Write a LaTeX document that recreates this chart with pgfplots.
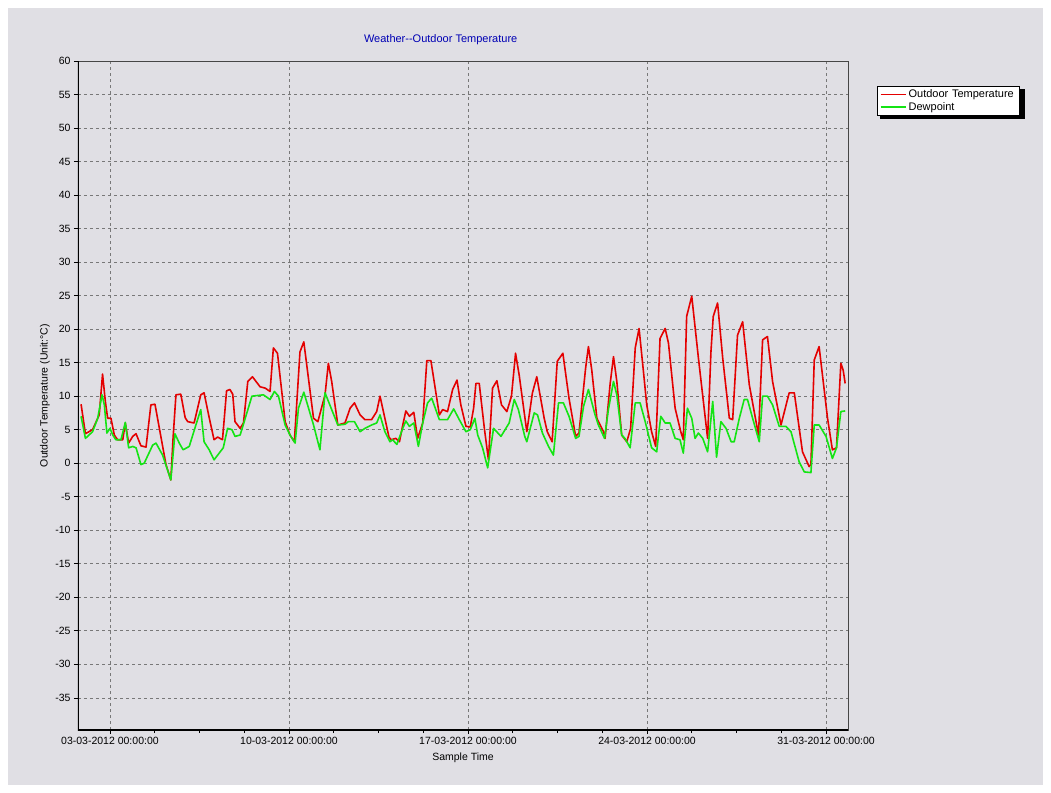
\documentclass[border=0pt]{standalone}
\usepackage{fontspec}
\setmainfont{Liberation Sans}
\usepackage{pgfplots}
\pgfplotsset{compat=1.18}
\definecolor{panel}{RGB}{224,223,228}
\definecolor{tred}{RGB}{228,0,0}
\definecolor{tgreen}{RGB}{20,228,20}
\definecolor{titleblue}{RGB}{0,0,180}
\definecolor{gridgray}{RGB}{120,120,120}
\definecolor{framegray}{RGB}{70,70,70}
\begin{document}
\begin{tikzpicture}[font=\fontsize{10.5}{12.5}\selectfont]
\fill[white] (-78pt,-62pt) rectangle (973pt,730pt);
\fill[panel] (-70pt,-55pt) rectangle (965pt,722pt);
\fill[black] (802pt,611pt) rectangle (947pt,641pt);
\begin{axis}[
  at={(0,0)}, anchor=south west,
  scale only axis, width=770pt, height=669pt,
  xmin=1.75, xmax=31.86, ymin=-39.8, ymax=60,
  /pgf/number format/assume math mode=true,
  xtick={3,10,17,24,31},
  xticklabels={03-03-2012 00:00:00,10-03-2012 00:00:00,17-03-2012 00:00:00,24-03-2012 00:00:00,31-03-2012 00:00:00},
  minor xtick={4.75,6.5,8.25,11.75,13.5,15.25,18.75,20.5,22.25,25.75,27.5,29.25},
  ytick={-35,-30,...,60},
  tick align=outside,
  major tick length=4pt, minor tick length=3pt,
  tick style={black, line width=0.6pt},
  xtick pos=bottom, ytick pos=left,
  grid=major,
  major grid style={gridgray, line width=0.6pt, dash pattern=on 3pt off 3pt},
  axis line style={framegray, line width=0.8pt},
  title={Weather{-}{-}Outdoor Temperature},
  title style={at={(axis description cs:0.471,1.0224)}, anchor=center, text=titleblue, font=\fontsize{11}{13}\selectfont},
  xlabel={Sample Time},
  xlabel style={at={(axis description cs:0.5,-0.0419)}, anchor=center},
  ylabel={Outdoor Temperature (Unit:°C)},
  ylabel style={at={(axis description cs:-0.0429,0.5)}, anchor=center},
  legend style={at={(1.0377,0.9626)}, anchor=north west, draw=black, fill=white,
    line width=0.6pt, font=\fontsize{11}{12.5}\selectfont,
    inner xsep=2.5pt, inner ysep=1.5pt, row sep=-1pt,
    text width=106pt,
    cells={anchor=west}},
  legend image code/.code={\draw[#1, line width=1.8pt] (0pt,0pt) -- (25pt,0pt);},
]
\addplot[tred, line width=1.6pt, line join=round] coordinates {
(1.87,8.8) (2.04,4.4) (2.32,5.0) (2.58,7.2) (2.71,13.3) (2.82,9.2) (2.91,6.7) (3.04,6.7) (3.17,4.2) (3.30,3.5) (3.50,3.5) (3.60,6.0) (3.73,3.0) (3.89,4.0) (4.02,4.4) (4.21,2.6) (4.41,2.4) (4.60,8.7) (4.76,8.8) (5.19,-0.2) (5.38,-2.5) (5.47,3.9) (5.58,10.2) (5.77,10.3) (5.94,6.8) (6.04,6.2) (6.29,6.0) (6.55,10.2) (6.68,10.5) (6.88,6.8) (7.07,3.5) (7.21,3.9) (7.40,3.5) (7.56,10.8) (7.69,11.0) (7.80,10.3) (7.89,6.2) (8.09,5.2) (8.22,6.0) (8.39,12.2) (8.57,12.9) (8.87,11.4) (9.07,11.2) (9.26,10.7) (9.39,17.2) (9.55,16.4) (9.85,6.2) (10.04,4.2) (10.21,3.2) (10.43,16.6) (10.58,18.1) (10.96,6.7) (11.13,6.2) (11.41,10.2) (11.54,14.9) (11.67,12.2) (11.91,5.7) (12.19,6.0) (12.39,8.2) (12.56,9.0) (12.78,7.2) (12.97,6.5) (13.23,6.5) (13.43,7.7) (13.56,10.0) (13.75,6.7) (13.91,3.9) (13.99,3.5) (14.18,3.7) (14.32,3.2) (14.45,5.7) (14.57,7.8) (14.71,7.0) (14.88,7.6) (15.03,3.7) (15.23,6.0) (15.39,15.3) (15.55,15.3) (15.88,7.2) (16.01,8.0) (16.20,7.7) (16.40,11.0) (16.57,12.4) (16.72,8.7) (16.92,5.5) (17.09,5.4) (17.22,8.2) (17.31,11.9) (17.44,11.9) (17.64,5.2) (17.80,0.5) (17.96,11.2) (18.13,12.3) (18.31,8.7) (18.52,7.7) (18.70,10.0) (18.86,16.4) (19.00,13.2) (19.30,4.7) (19.52,10.5) (19.69,12.9) (19.98,6.7) (20.10,4.7) (20.29,3.2) (20.49,15.2) (20.71,16.4) (20.95,9.7) (21.21,4.0) (21.34,4.5) (21.60,14.2) (21.71,17.4) (21.84,13.9) (22.04,6.7) (22.30,4.7) (22.36,3.7) (22.56,11.9) (22.69,15.9) (22.82,12.2) (23.01,4.2) (23.21,3.2) (23.36,5.2) (23.54,17.2) (23.69,20.1) (23.86,13.7) (23.99,8.7) (24.18,4.7) (24.34,2.5) (24.51,18.6) (24.71,20.1) (24.84,17.9) (25.10,8.2) (25.32,4.7) (25.42,3.5) (25.55,21.9) (25.75,24.9) (26.01,15.7) (26.37,3.7) (26.50,16.6) (26.59,21.9) (26.76,23.9) (26.96,15.7) (27.22,6.7) (27.35,6.5) (27.54,19.1) (27.74,21.1) (28.00,11.7) (28.36,4.2) (28.52,18.4) (28.71,18.9) (28.91,12.2) (29.24,5.7) (29.56,10.5) (29.76,10.5) (30.08,1.7) (30.34,-0.5) (30.41,-0.2) (30.54,15.4) (30.73,17.4) (31.06,6.7) (31.25,2.0) (31.41,2.3) (31.58,14.9) (31.67,13.9) (31.75,11.9)
};
\addlegendentry{Outdoor Temperature}
\addplot[tgreen, line width=1.6pt, line join=round] coordinates {
(1.87,7.0) (2.04,3.7) (2.32,4.7) (2.52,6.7) (2.69,10.2) (2.78,8.7) (2.88,4.5) (3.00,5.2) (3.11,4.2) (3.23,3.5) (3.43,3.5) (3.60,6.1) (3.73,2.3) (3.89,2.5) (4.02,2.3) (4.21,-0.2) (4.34,0.0) (4.67,2.7) (4.80,3.0) (5.06,1.2) (5.38,-2.5) (5.54,4.4) (5.71,3.0) (5.86,2.0) (6.10,2.5) (6.36,5.7) (6.55,8.0) (6.68,3.2) (6.88,2.0) (7.07,0.5) (7.27,1.5) (7.43,2.3) (7.60,5.2) (7.77,5.0) (7.89,4.0) (8.09,4.2) (8.29,6.7) (8.55,10.0) (9.00,10.2) (9.26,9.5) (9.43,10.7) (9.59,10.0) (9.85,5.7) (10.04,4.2) (10.24,3.0) (10.37,8.2) (10.58,10.6) (10.96,5.7) (11.21,2.0) (11.41,10.5) (11.67,8.0) (11.91,5.7) (12.19,5.8) (12.32,6.2) (12.56,6.2) (12.78,4.7) (12.97,5.2) (13.23,5.7) (13.43,6.0) (13.56,7.2) (13.75,4.7) (13.95,3.2) (14.05,3.5) (14.22,2.8) (14.45,5.2) (14.57,6.3) (14.71,5.5) (14.88,6.0) (15.06,2.5) (15.23,6.0) (15.42,9.0) (15.58,9.7) (15.88,6.5) (16.20,6.5) (16.44,8.1) (16.66,6.5) (16.92,4.7) (17.09,5.0) (17.27,6.7) (17.38,4.2) (17.57,2.3) (17.77,-0.7) (18.00,5.2) (18.29,4.0) (18.61,6.0) (18.81,9.5) (18.97,8.0) (19.22,4.0) (19.30,3.2) (19.59,7.5) (19.72,7.2) (19.91,4.5) (20.15,2.5) (20.34,1.2) (20.54,9.0) (20.73,9.0) (20.95,7.0) (21.21,3.7) (21.34,4.0) (21.52,8.5) (21.71,11.0) (21.97,7.2) (22.10,5.7) (22.34,3.7) (22.49,8.0) (22.69,12.2) (22.82,10.2) (23.01,4.2) (23.14,3.7) (23.34,2.3) (23.54,9.0) (23.73,9.0) (23.93,6.2) (24.18,2.3) (24.38,1.7) (24.45,4.2) (24.54,7.0) (24.71,6.0) (24.90,6.0) (25.10,3.7) (25.29,3.5) (25.42,1.5) (25.58,8.2) (25.75,6.7) (25.88,3.7) (26.01,4.5) (26.18,3.7) (26.37,1.7) (26.57,9.2) (26.72,0.9) (26.89,6.2) (27.09,5.2) (27.29,3.2) (27.41,3.2) (27.61,6.7) (27.80,9.5) (27.93,9.5) (28.13,6.7) (28.39,3.2) (28.52,10.0) (28.71,10.0) (28.91,8.7) (29.17,5.5) (29.43,5.5) (29.63,4.7) (29.95,0.2) (30.15,-1.3) (30.41,-1.4) (30.54,5.7) (30.73,5.7) (31.00,4.0) (31.25,0.7) (31.41,2.3) (31.58,7.7) (31.75,7.8)
};
\addlegendentry{Dewpoint}
\draw[black, line width=2pt] (rel axis cs:0,1) -- (rel axis cs:0,0) -- (rel axis cs:1,0);
\end{axis}
\end{tikzpicture}
\end{document}
